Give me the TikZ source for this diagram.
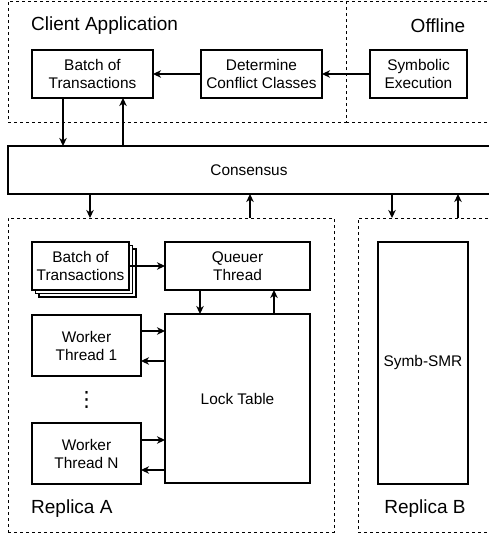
\documentclass[tikz,border=0pt]{standalone}
\usepackage{fontspec}
\setmainfont{Liberation Sans}
\newfontfamily\symfont{DejaVu Sans}
\usetikzlibrary{arrows.meta, positioning, shadows}
\tikzset{
    box_solid/.style={
        rectangle, draw=black, line width=1.2pt, fill=white,
        inner sep=0pt, outer sep=0pt,
        align=center, font=\fontsize{15.4}{18}\selectfont
    },
    group_dashed/.style={
        rectangle, draw=black, line width=0.9pt, dash pattern=on 3pt off 3pt,
        inner sep=0pt, outer sep=0pt
    },
    dashed_line/.style={
        draw=black, line width=0.9pt, dash pattern=on 3pt off 3pt
    },
    flow_arrow/.style={
        -{Stealth[length=8pt, width=7.5pt, inset=2.5pt]}, line width=1.1pt, draw=black
    },
    title_lbl/.style={
        inner sep=0pt, font=\fontsize{19}{22}\selectfont
    }
}

\begin{document}
\begin{tikzpicture}[x=1pt, y=-1pt]
\useasboundingbox (0,0) rectangle (489,533);
\clip (0,0) rectangle (489,533);

\node[group_dashed, minimum width=338pt, minimum height=121pt] (client) at (177, 61.5) {};
\node[inner sep=0pt, outer sep=0pt, minimum width=154pt, minimum height=121pt] (offline) at (423, 61.5) {};
\draw[dashed_line] (offline.north west) -- (offline.north east) -- (offline.south east) -- (offline.south west);
\node[group_dashed, minimum width=326pt, minimum height=314pt] (replicaA) at (171, 375) {};
\node[group_dashed, minimum width=142pt, minimum height=314pt] (replicaB) at (429, 375) {};

\node[title_lbl, anchor=west] (clientlbl) at (31, 25.5) {Client Application};
\node[title_lbl] (offlinelbl) at (438, 25.5) {Offline};
\node[title_lbl, anchor=west] (replicaAlbl) at (31, 509) {Replica A};
\node[title_lbl] (replicaBlbl) at (425, 509) {Replica B};

\node[box_solid, minimum width=121pt, minimum height=48pt] (batch) at (92.5, 74) {Batch of\\Transactions};
\node[box_solid, minimum width=121pt, minimum height=48pt] (determine) at (261.5, 74) {Determine\\Conflict Classes};
\node[box_solid, minimum width=97pt, minimum height=48pt] (symbolic) at (418.5, 74) {Symbolic\\Execution};

\node[box_solid, minimum width=492pt, minimum height=48pt] (consensus) at (254, 170) {};
\node[font=\fontsize{15.4}{18}\selectfont] (consensuslbl) at (249, 170) {Consensus};

\node[box_solid, minimum width=97pt, minimum height=48pt,
      double copy shadow={shadow xshift=3.5pt, shadow yshift=-3.5pt, draw=black, line width=1.2pt, fill=white}] (batchA) at (80.5, 266) {Batch of\\Transactions};
\node[box_solid, minimum width=145pt, minimum height=48pt] (queuer) at (237.5, 266) {Queuer\\Thread};
\node[box_solid, minimum width=145pt, minimum height=169pt] (lock) at (237.5, 398.5) {Lock Table};
\node[box_solid, minimum width=109pt, minimum height=61pt] (worker1) at (86.5, 345.5) {Worker\\Thread 1};
\node[inner sep=0pt, font=\symfont\fontsize{21}{22}\selectfont] (dots) at (86.5, 400) {⋮};
\node[box_solid, minimum width=109pt, minimum height=61pt] (workerN) at (86.5, 453.5) {Worker\\Thread N};

\node[box_solid, minimum width=90pt, minimum height=242pt] (symb) at (423, 363) {Symb-SMR};

\draw[flow_arrow] (determine) -- (batch);
\draw[flow_arrow] (symbolic) -- (determine);
\draw[flow_arrow] (batch.south -| 63,0) -- (consensus.north -| 63,0);
\draw[flow_arrow] (consensus.north -| 123,0) -- (batch.south -| 123,0);
\draw[flow_arrow] (consensus.south -| 90,0) -- (replicaA.north -| 90,0);
\draw[flow_arrow] (replicaA.north -| 250,0) -- (consensus.south -| 250,0);
\draw[flow_arrow] (consensus.south -| 392,0) -- (replicaB.north -| 392,0);
\draw[flow_arrow] (replicaB.north -| 458,0) -- (consensus.south -| 458,0);
\draw[flow_arrow] (batchA) -- (queuer);
\draw[flow_arrow] (queuer.south -| 200,0) -- (lock.north -| 200,0);
\draw[flow_arrow] (lock.north -| 274,0) -- (queuer.south -| 274,0);
\draw[flow_arrow] (worker1.east |- 0,331) -- (lock.west |- 0,331);
\draw[flow_arrow] (lock.west |- 0,361) -- (worker1.east |- 0,361);
\draw[flow_arrow] (workerN.east |- 0,440) -- (lock.west |- 0,440);
\draw[flow_arrow] (lock.west |- 0,470) -- (workerN.east |- 0,470);
\end{tikzpicture}
\end{document}
